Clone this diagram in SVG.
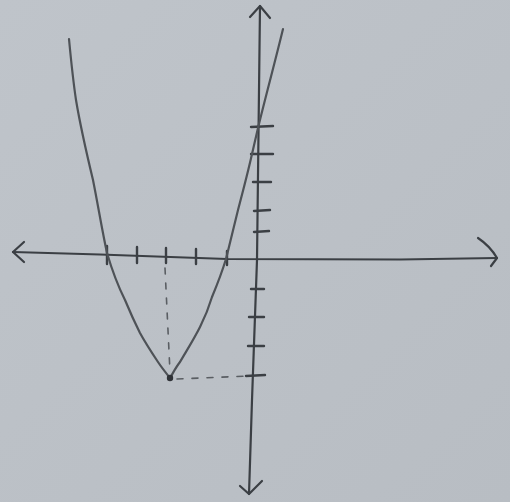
<svg xmlns="http://www.w3.org/2000/svg" width="510" height="502" viewBox="0 0 510 502">
  <defs>
    <linearGradient id="bg" x1="0" y1="0" x2="1" y2="1">
      <stop offset="0" stop-color="#bfc4ca"/>
      <stop offset="1" stop-color="#b8bdc3"/>
    </linearGradient>
  </defs>
  <style>
    .axis { fill: none; stroke: #3b3f44; stroke-width: 2.2; stroke-linecap: round; stroke-linejoin: round; }
    .tick { fill: none; stroke: #3b3f44; stroke-width: 2.4; stroke-linecap: round; }
    .curve { fill: none; stroke: #4e5257; stroke-width: 2.2; stroke-linecap: round; stroke-linejoin: round; }
    .dash { fill: none; stroke: #5a5e63; stroke-width: 1.6; stroke-dasharray: 6 9; stroke-linecap: round; }
  </style>
  <rect width="510" height="502" fill="url(#bg)"/>

  <g id="x-axis">
    <path class="axis" d="M13,252 L100,254.5 L227,259 L400,259.5 L497,258"/>
    <path class="axis" d="M24,242 L13,252 L24,262"/>
    <path class="axis" d="M478,238 Q490,246 497,258 L491,266"/>
  </g>

  <g id="y-axis">
    <path class="axis" d="M260,6 L257,260 L252,400 L249,494"/>
    <path class="axis" d="M250,17 L260,6 L270,18"/>
    <path class="axis" d="M240,486 L249,494 L262,481"/>
  </g>

  <g id="x-ticks">
    <path class="tick" d="M107,246 L107,264"/>
    <path class="tick" d="M137,247 L137,263"/>
    <path class="tick" d="M166,248 L166,263"/>
    <path class="tick" d="M196,249 L196,264"/>
    <path class="tick" d="M227,251 L227,265"/>
  </g>

  <g id="y-ticks">
    <path class="tick" d="M251,127 L273,126"/>
    <path class="tick" d="M251,154 L273,154"/>
    <path class="tick" d="M253,182 L271,182"/>
    <path class="tick" d="M254,211 L270,210"/>
    <path class="tick" d="M254,232 L269,231"/>
    <path class="tick" d="M251,289 L264,289"/>
    <path class="tick" d="M249,317 L264,317"/>
    <path class="tick" d="M248,346 L264,346"/>
    <path class="tick" d="M246,376 L265,375"/>
  </g>

  <g id="parabola">
    <path class="curve" d="M69,39 C71,60 73,80 76,100 C81,130 87,155 93,180 C98,205 102,230 107,253 C112,270 118,286 125,300 C130,312 135,323 140,333 C146,344 152,353 158,362 C162,368 166,373 170,378 C173,373 176,367 180,362 C187,350 194,339 200,327 C205,317 209,307 212,297 C217,285 222,272 226,259 C230,243 234,226 238,210 C243,191 248,172 252,154 C254,145 256,137 258,128 C266,95 275,62 283,29"/>
    <circle cx="170" cy="378" r="3.2" fill="#2f3237"/>
  </g>

  <g id="guides">
    <path class="dash" d="M165,268 L170,372"/>
    <path class="dash" d="M177,379 L250,376"/>
  </g>
</svg>
